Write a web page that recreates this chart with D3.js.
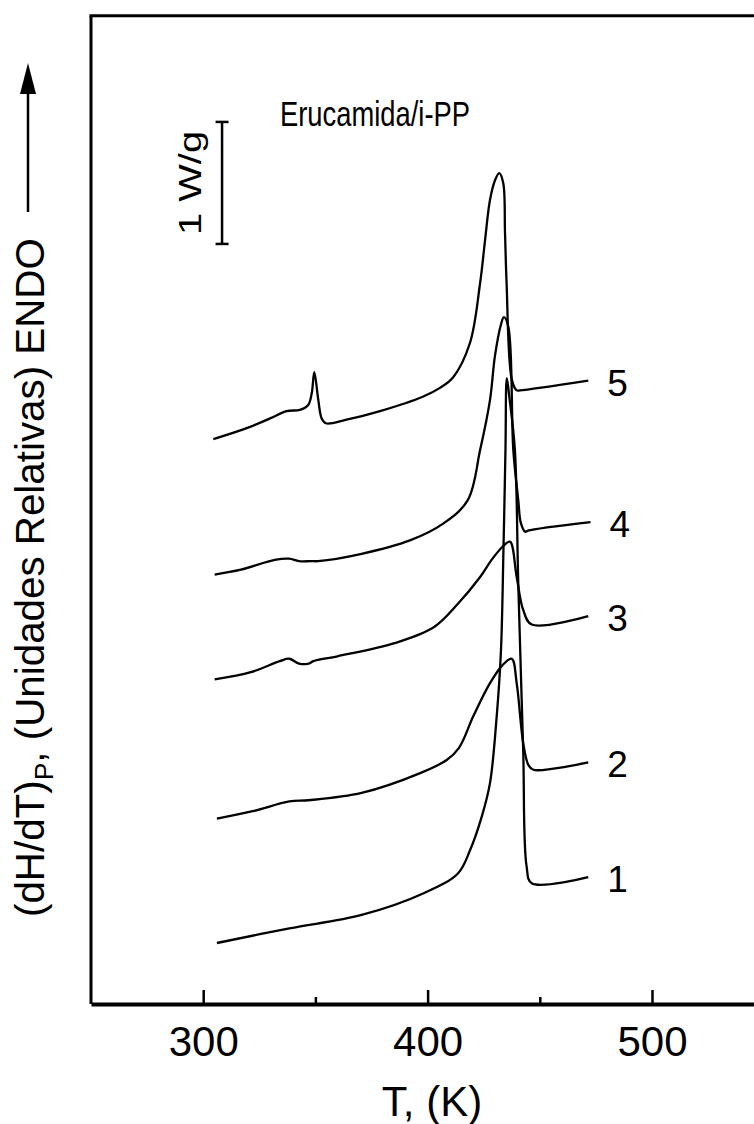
<!DOCTYPE html>
<html>
<head>
<meta charset="utf-8">
<script src="https://cdn.jsdelivr.net/npm/d3@7"></script>
<style>
	html, body { margin: 0; padding: 0; background: #fff; }
	svg { display: block; }
	text { font-family: "Liberation Sans", Arial, Helvetica, sans-serif; fill: #000; }
</style>
</head>
<body>
<div id="chart"></div>
<script>
// DSC traces, [T (K), dH/dT (W/g)], curves already shifted as in the figure
const curve1 = [
	[306.1, 0.50], [338.4, 0.62], [370.6, 0.73], [398.5, 0.91], [413.5, 1.07],
	[418.9, 1.26], [424.2, 1.54], [427.8, 1.81], [430.8, 2.36], [432.7, 2.90],
	[433.8, 3.72], [434.7, 4.54], [435.3, 5.13], [436.4, 4.98], [438.9, 4.54],
	[440.4, 3.45], [442.6, 2.08], [444.1, 1.13], [446.4, 0.99], [471.6, 1.04]
];
const curve2 = [
	[306.1, 1.52], [322.0, 1.58], [338.4, 1.66], [347.0, 1.67], [370.6, 1.73],
	[396.4, 1.89], [408.5, 2.00], [414.0, 2.10], [420.4, 2.36], [427.8, 2.63],
	[433.5, 2.78], [437.5, 2.83], [439.7, 2.63], [442.6, 2.14], [444.9, 1.96],
	[447.1, 1.92], [471.6, 1.98]
];
const curve3 = [
	[305.1, 2.66], [321.2, 2.72], [334.1, 2.81], [338.4, 2.83], [342.7, 2.79],
	[347.0, 2.79], [349.1, 2.81], [359.8, 2.85], [385.7, 2.96], [402.9, 3.09],
	[413.5, 3.28], [423.4, 3.50], [428.5, 3.64], [433.5, 3.75], [436.7, 3.79],
	[439.7, 3.50], [442.6, 3.23], [446.4, 3.11], [471.6, 3.18]
];
const curve4 = [
	[305.1, 3.52], [316.8, 3.56], [331.9, 3.64], [338.2, 3.65], [342.7, 3.63],
	[348.0, 3.63], [351.2, 3.63], [370.6, 3.69], [392.1, 3.80], [407.1, 3.94],
	[417.9, 4.13], [423.4, 4.54], [427.8, 4.95], [430.0, 5.31], [432.7, 5.57],
	[434.0, 5.63], [436.0, 5.55], [438.2, 4.54], [440.4, 4.13], [441.6, 3.94],
	[443.6, 3.87], [444.7, 3.88], [472.6, 3.95]
];
const curve5 = [
	[304.5, 4.63], [319.4, 4.72], [329.8, 4.80], [337.2, 4.86], [343.1, 4.87],
	[346.8, 4.91], [348.4, 5.01], [349.5, 5.18], [351.3, 4.95], [352.8, 4.80],
	[354.7, 4.76], [363.9, 4.79], [378.8, 4.86], [398.1, 4.98], [405.5, 5.05],
	[411.5, 5.14], [418.9, 5.42], [423.4, 5.91], [425.6, 6.26], [427.8, 6.59],
	[430.0, 6.75], [431.9, 6.81], [433.7, 6.73], [434.5, 6.32], [435.2, 5.91],
	[437.5, 5.12], [439.7, 5.03], [441.2, 5.03], [471.6, 5.11]
];
const curves = [curve1, curve2, curve3, curve4, curve5];
const curveLabels = ['1', '2', '3', '4', '5'];

const xTicks = [300, 400, 500];
const xMinorTicks = [350, 450];
const title = 'Erucamida/i-PP';
const xTitle = 'T, (K)';
const scaleBarLabel = '1 W/g';

// Chart dimensions
const width = 754;
const height = 1124;

const x = d3.scaleLinear().domain([250, 550]).range([91, 764.2]);
const y = d3.scaleLinear().domain([0, 8.1]).range([1004, 15.8]);

const svg = d3.select('#chart')
	.append('svg')
	.attr('width', width)
	.attr('height', height)
	.attr('viewBox', [0, 0, width, height]);

// Frame: left, top, right lines
const frame = svg.append('g').attr('stroke', '#000').attr('fill', 'none');
frame.append('line')
	.attr('x1', x(250)).attr('x2', x(250))
	.attr('y1', y(8.1)).attr('y2', y(0))
	.attr('stroke-width', 3);
frame.append('line')
	.attr('x1', x(250) - 1.5).attr('x2', x(550))
	.attr('y1', y(8.1)).attr('y2', y(8.1))
	.attr('stroke-width', 3);
frame.append('line')
	.attr('x1', x(550)).attr('x2', x(550))
	.attr('y1', y(8.1)).attr('y2', y(0))
	.attr('stroke-width', 3);

// Bottom axis, ticks pointing inward
const xAxis = svg.append('g')
	.attr('transform', 'translate(0,' + y(0) + ')')
	.call(d3.axisBottom(x).tickValues(xTicks).tickSize(-14).tickSizeOuter(0));
xAxis.select('.domain').attr('stroke-width', 4);
xAxis.selectAll('.tick line').attr('stroke-width', 2.5);
xAxis.selectAll('.tick text')
	.attr('font-size', 42)
	.attr('font-family', '"Liberation Sans", Arial, sans-serif')
	.attr('dy', '0.71em')
	.attr('y', 22);

const xMinor = svg.append('g')
	.attr('transform', 'translate(0,' + y(0) + ')')
	.call(d3.axisBottom(x).tickValues(xMinorTicks).tickSize(-7).tickSizeOuter(0).tickFormat(''));
xMinor.select('.domain').remove();
xMinor.selectAll('.tick line').attr('stroke-width', 2.5);

svg.append('text')
	.attr('x', 432)
	.attr('y', 1116)
	.attr('text-anchor', 'middle')
	.attr('font-size', 42)
	.text(xTitle);

// Y axis label (rotated) with arrow
const yLabel = svg.append('text')
	.attr('transform', 'translate(44,917) rotate(-90)')
	.attr('font-size', 38);
yLabel.append('tspan').text('(dH/dT)');
yLabel.append('tspan').attr('font-size', 25).attr('dy', 8).text('P');
yLabel.append('tspan').attr('dy', -8).text(', (Unidades Relativas) ENDO');

// fit label length to the figure
const targetLen = 679;
const len = yLabel.node().getComputedTextLength();
const k = targetLen / len;
yLabel.attr('font-size', 38 * k);
yLabel.selectAll('tspan').filter((d, i) => i === 1)
	.attr('font-size', 25 * k).attr('dy', 8 * k);
yLabel.selectAll('tspan').filter((d, i) => i === 2).attr('dy', -8 * k);

svg.append('line')
	.attr('x1', 28).attr('x2', 28)
	.attr('y1', 212).attr('y2', 88)
	.attr('stroke', '#000')
	.attr('stroke-width', 2.5);
svg.append('path')
	.attr('d', 'M28,63 L20,94 L36,94 Z')
	.attr('fill', '#000');

// Title
svg.append('text')
	.attr('x', 280)
	.attr('y', 126)
	.attr('font-size', 35)
	.attr('textLength', 190)
	.attr('lengthAdjust', 'spacingAndGlyphs')
	.text(title);

// Scale bar 1 W/g
const barT = 308.4;
const barBottom = 6.23;
const bar = svg.append('g').attr('stroke', '#000').attr('stroke-width', 2.5);
bar.append('line')
	.attr('x1', x(barT)).attr('x2', x(barT))
	.attr('y1', y(barBottom)).attr('y2', y(barBottom + 1));
[barBottom, barBottom + 1].forEach((v) => {
	bar.append('line')
		.attr('x1', x(barT) - 6.5).attr('x2', x(barT) + 6.5)
		.attr('y1', y(v)).attr('y2', y(v));
});
svg.append('text')
	.attr('transform', 'translate(' + (x(barT) - 21) + ',' + y(barBottom + 0.5) + ') rotate(-90)')
	.attr('text-anchor', 'middle')
	.attr('font-size', 31)
	.attr('textLength', 104)
	.attr('lengthAdjust', 'spacingAndGlyphs')
	.text(scaleBarLabel);

// Curves
const line = d3.line()
	.x((d) => x(d[0]))
	.y((d) => y(d[1]))
	.curve(d3.curveCatmullRom.alpha(0.5));

svg.append('g')
	.selectAll('path')
	.data(curves)
	.enter()
	.append('path')
	.attr('d', line)
	.attr('fill', 'none')
	.attr('stroke', '#000')
	.attr('stroke-width', 2.3)
	.attr('stroke-linejoin', 'round');

// Curve numbers at the right end
svg.append('g')
	.selectAll('text')
	.data(curves)
	.enter()
	.append('text')
	.attr('x', (d) => x(d[d.length - 1][0]) + 19)
	.attr('y', (d) => y(d[d.length - 1][1]) + 2)
	.attr('dy', '0.35em')
	.attr('font-size', 37)
	.text((d, i) => curveLabels[i]);
</script>
</body>
</html>
